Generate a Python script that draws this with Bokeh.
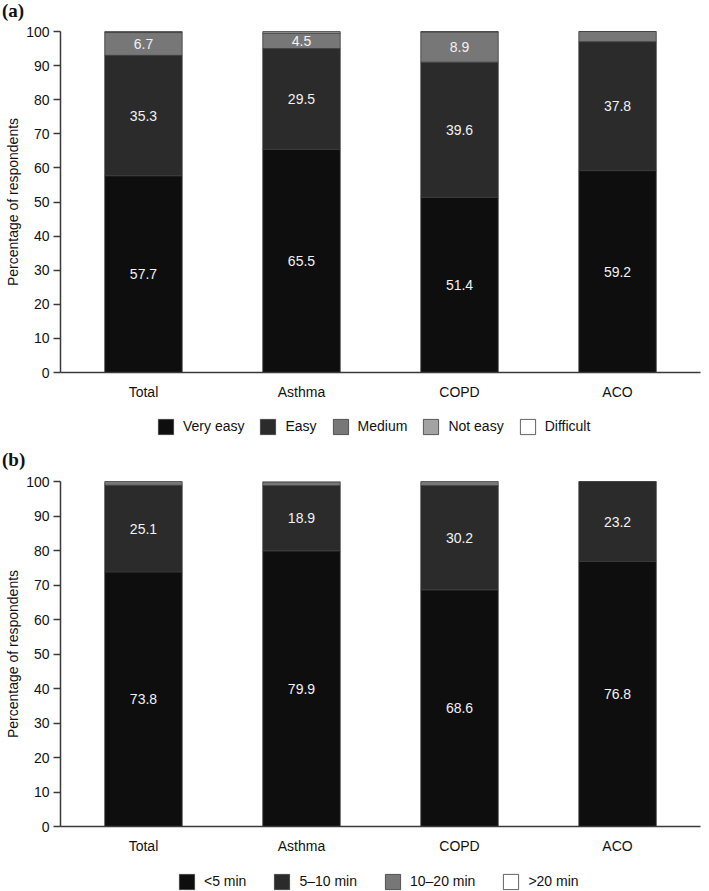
from bokeh.plotting import figure
from bokeh.models import ColumnDataSource, Range1d, FactorRange, Legend, LegendItem, Div
from bokeh.layouts import column
from bokeh.embed import file_html
from bokeh.resources import INLINE
from bokeh.core.properties import value
import numpy as np

# ---------------- data ----------------
groups = ["Total", "Asthma", "COPD", "ACO"]

a_series = ["Very easy", "Easy", "Medium", "Not easy", "Difficult"]
very_easy = [57.7, 65.5, 51.4, 59.2]
easy = [35.3, 29.5, 39.6, 37.8]
medium = [6.7, 4.5, 8.9, 3.0]
not_easy = [0.3, 0.5, 0.1, 0.0]
difficult = [0.0, 0.0, 0.0, 0.0]

b_series = ["<5 min", "5\u201310 min", "10\u201320 min", ">20 min"]
lt5 = [73.8, 79.9, 68.6, 76.8]
m5_10 = [25.1, 18.9, 30.2, 23.2]
m10_20 = [1.1, 1.0, 1.2, 0.0]
gt20 = [0.0, 0.2, 0.0, 0.0]

y_ticks = list(range(0, 101, 10))
y_label = "Percentage of respondents"

# ---------------- style ----------------
a_colors = ["#0e0e0e", "#2b2b2b", "#777777", "#a3a3a3", "#ffffff"]
b_colors = ["#0e0e0e", "#2b2b2b", "#777777", "#ffffff"]
FONT = "Liberation Sans"
W = 709
BAR_LINE = dict(line_color="#3a3a3a", line_width=0.8)


def tag_div(text, height, line_h):
    return Div(text=text, width=W, height=height, margin=0,
               styles={"font-family": "'Liberation Serif', serif", "font-weight": "bold",
                       "font-size": "19px", "line-height": f"{line_h}px",
                       "padding-left": "2px", "color": "#111111"})


def legend_fig(names, colors, height, loc, spacing):
    p = figure(width=W, height=height, x_range=Range1d(0, 1), y_range=Range1d(0, 1),
               x_axis_location=None, y_axis_location=None,
               output_backend="svg", toolbar_location=None, min_border=0)
    p.outline_line_color = None
    p.grid.visible = False
    items = []
    for name, col in zip(names, colors):
        # off-screen placeholder bar, only used for the legend swatch
        r = p.vbar(x=[-10.0], bottom=[-10.0], top=[-9.0], width=0.1, fill_color=col, **BAR_LINE)
        items.append(LegendItem(label=name, renderers=[r]))
    legend = Legend(items=items, orientation="horizontal", location=loc,
                    glyph_width=19, glyph_height=19, label_standoff=8, spacing=spacing,
                    padding=0, margin=0, border_line_color=None,
                    background_fill_alpha=0, label_text_font=FONT,
                    label_text_font_size="14px", label_height=19,
                    label_text_color="#111111")
    p.add_layout(legend, "center")
    return p


def chart(values, colors, height, top, frame_h):
    p = figure(
        width=W, height=height,
        x_range=FactorRange(*groups, range_padding=0.0125),
        y_range=Range1d(0, 100),
        output_backend="svg", toolbar_location=None,
        min_border_left=60, min_border_right=9,
        min_border_top=top, min_border_bottom=height - top - frame_h,
    )
    p.outline_line_color = None
    p.xgrid.visible = False
    p.ygrid.visible = False

    bottoms = np.zeros(len(groups))
    lx, ly, lt = [], [], []
    for vals, col in zip(values, colors):
        vals = np.array(vals, dtype=float)
        tops = bottoms + vals
        src = ColumnDataSource(dict(x=groups, bottom=bottoms, top=tops))
        p.vbar(x="x", bottom="bottom", top="top", width=0.49, source=src,
               fill_color=col, **BAR_LINE)
        for g, b, v in zip(groups, bottoms, vals):
            if v >= 4:
                lx.append(g)
                ly.append(b + v / 2)
                lt.append(f"{v:.1f}")
        bottoms = tops

    p.text(x=lx, y=ly, text=lt, text_color="#f2f2f2", text_align="center",
           text_baseline="middle", text_font=value(FONT), text_font_size="14px")

    p.xaxis.major_tick_out = 0
    p.xaxis.major_tick_in = 0
    p.xaxis.axis_line_color = "#3a3a3a"
    p.xaxis.axis_line_width = 1.5
    p.xaxis.major_label_standoff = 11
    p.xaxis.major_label_text_font = FONT
    p.xaxis.major_label_text_font_size = "14px"
    p.xaxis.major_label_text_color = "#111111"

    p.yaxis.ticker = y_ticks
    p.yaxis.major_tick_out = 7
    p.yaxis.major_tick_in = 0
    p.yaxis.minor_tick_out = 0
    p.yaxis.minor_tick_in = 0
    p.yaxis.axis_line_color = "#3a3a3a"
    p.yaxis.axis_line_width = 1.5
    p.yaxis.major_tick_line_color = "#3a3a3a"
    p.yaxis.major_tick_line_width = 1.5
    p.yaxis.major_label_standoff = 4
    p.yaxis.major_label_text_font = FONT
    p.yaxis.major_label_text_font_size = "14px"
    p.yaxis.major_label_text_color = "#111111"
    p.yaxis.axis_label = y_label
    p.yaxis.axis_label_text_font = FONT
    p.yaxis.axis_label_text_font_style = "normal"
    p.yaxis.axis_label_text_font_size = "14px"
    p.yaxis.axis_label_text_color = "#111111"
    p.yaxis.axis_label_standoff = 2
    return p


tag_a = tag_div("(a)", 22, 22)
chart_a = chart([very_easy, easy, medium, not_easy, difficult], a_colors, 380, 9, 341)
leg_a = legend_fig(a_series, a_colors, 48, (96, 14.5), 14)
tag_b = tag_div("(b)", 22, 20)
chart_b = chart([lt5, m5_10, m10_20, gt20], b_colors, 399, 9, 345)
leg_b = legend_fig(b_series, b_colors, 20, (117, 0.5), 26)

layout = column(tag_a, chart_a, leg_a, tag_b, chart_b, leg_b, spacing=0)
open("out.html", "w").write(file_html(layout, INLINE))
